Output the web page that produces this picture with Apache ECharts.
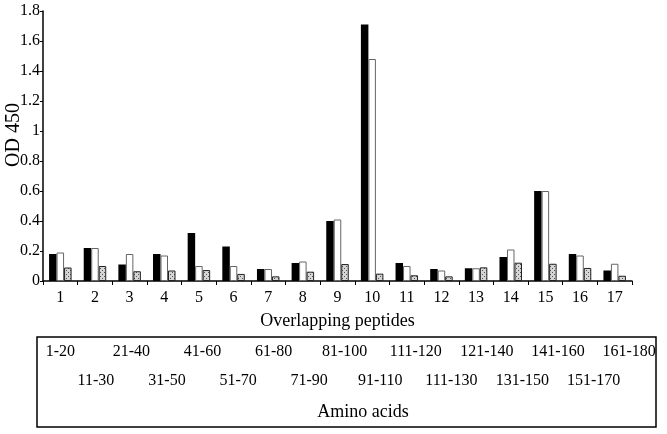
<!DOCTYPE html>
<html>
<head>
<meta charset="utf-8">
<script src="https://cdn.jsdelivr.net/npm/echarts@6/dist/echarts.min.js"></script>
<style>html,body{margin:0;padding:0;background:#fff}#c{width:667px;height:434px}</style>
</head>
<body>
<div id="c"></div>
<script>
var categories = ['1','2','3','4','5','6','7','8','9','10','11','12','13','14','15','16','17'];
var seriesBlack = [0.18,0.22,0.11,0.18,0.32,0.23,0.08,0.12,0.40,1.71,0.12,0.08,0.085,0.16,0.60,0.18,0.07];
var seriesWhite = [0.19,0.22,0.18,0.17,0.10,0.10,0.08,0.13,0.41,1.48,0.10,0.07,0.085,0.21,0.60,0.17,0.115];
var seriesDotted = [0.09,0.10,0.065,0.07,0.073,0.047,0.031,0.062,0.113,0.049,0.038,0.031,0.091,0.122,0.115,0.087,0.035];
var aminoAcids = ['1-20','11-30','21-40','31-50','41-60','51-70','61-80','71-90','81-100','91-110','111-120','111-130','121-140','131-150','141-160','151-170','161-180'];
var yTicks = [0,0.2,0.4,0.6,0.8,1,1.2,1.4,1.6,1.8];

var FONT = "'Liberation Serif','Times New Roman',serif";

var pc = document.createElement('canvas');
pc.width = 4; pc.height = 4;
var g = pc.getContext('2d');
g.fillStyle = '#d6d6d6'; g.fillRect(0,0,4,4);
g.fillStyle = '#555'; g.fillRect(0,0,1,1); g.fillRect(2,2,1,1);

var chart = echarts.init(document.getElementById('c'), null, {renderer:'canvas'});
var option = {
  animation: false,
  backgroundColor: '#fff',
  grid: {left: 43, right: 35, top: 11, bottom: 153},
  xAxis: {
    type: 'category',
    data: categories,
    axisLine: {lineStyle: {color: '#000', width: 1.5}},
    axisTick: {show: true, length: 4, alignWithLabel: false, lineStyle: {color:'#000'}},
    axisLabel: {color: '#000', fontFamily: FONT, fontSize: 16, margin: 9},
    name: 'Overlapping peptides',
    nameLocation: 'middle',
    nameGap: 31,
    nameTextStyle: {color: '#000', fontFamily: FONT, fontSize: 18}
  },
  yAxis: {
    type: 'value',
    min: yTicks[0], max: yTicks[yTicks.length-1], interval: 0.2,
    splitLine: {show: false},
    axisLine: {show: true, lineStyle: {color: '#000', width: 1.5}},
    axisTick: {show: true, length: 3, lineStyle: {color:'#000'}},
    axisLabel: {color: '#000', fontFamily: FONT, fontSize: 16, margin: 3,
      formatter: function(v){ return String(Math.round(v*10)/10); }}
  },
  series: [
    {type:'bar', data: seriesBlack, barWidth: 7.5, barGap: '0%',
     itemStyle:{color:'#000'}},
    {type:'bar', data: seriesWhite, barWidth: 7.5, barGap: '0%',
     itemStyle:{color:'#fff', borderColor:'#666', borderWidth:1}},
    {type:'bar', data: seriesDotted, barWidth: 7.5, barGap: '0%',
     itemStyle:{color:{image: pc, repeat:'repeat'}, borderColor:'#222', borderWidth:1}}
  ]
};
chart.setOption(option);

var elems = [
  {type:'text', x: 14, y: 135, rotation: Math.PI/2, style:{text:'OD 450', fill:'#000', font:'20px ' + FONT, align:'center', verticalAlign:'middle'}},
  {type:'rect', shape:{x:37, y:337, width:619, height:90}, style:{fill:'none', stroke:'#000', lineWidth:1.5}},
  {type:'text', x: 363, y: 412, style:{text:'Amino acids', fill:'#000', font:'18px ' + FONT, align:'center', verticalAlign:'middle'}}
];
var x0 = chart.convertToPixel({xAxisIndex:0}, categories[0]);
for (var i = 0; i < aminoAcids.length; i++) {
  var px = chart.convertToPixel({xAxisIndex:0}, categories[i]);
  var lx = x0 + (px - x0) * 1.026;
  elems.push({type:'text', x: lx, y: (i % 2 === 0) ? 352 : 381,
    style:{text: aminoAcids[i], fill:'#000', font:'16px ' + FONT, align:'center', verticalAlign:'middle'}});
}
chart.setOption({graphic: elems});
</script>
</body>
</html>
